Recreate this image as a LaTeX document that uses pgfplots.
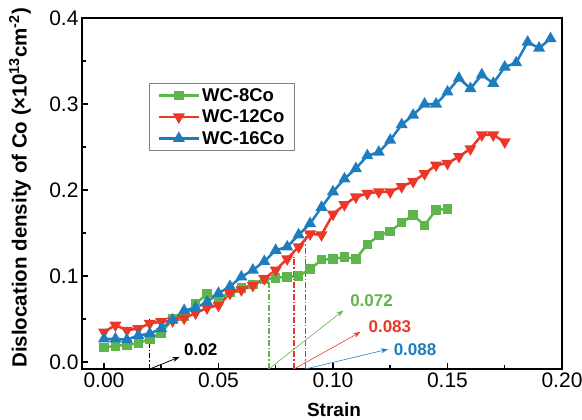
\documentclass[border=0pt]{standalone}
\usepackage{pgfplots}
\pgfplotsset{compat=1.18}
\usepackage{fontspec}
\setmainfont{Liberation Sans}
\usetikzlibrary{arrows.meta}
\definecolor{cg}{RGB}{95,180,75}
\definecolor{cr}{RGB}{235,55,40}
\definecolor{cb}{RGB}{30,125,190}

\pgfplotstableread{
x y
0.000 0.017
0.005 0.019
0.010 0.020
0.015 0.022
0.020 0.027
0.025 0.034
0.030 0.050
0.035 0.053
0.040 0.068
0.045 0.079
0.050 0.074
0.055 0.081
0.060 0.086
0.065 0.090
0.070 0.096
0.075 0.098
0.080 0.099
0.085 0.100
0.090 0.108
0.095 0.119
0.100 0.120
0.105 0.122
0.110 0.120
0.115 0.137
0.120 0.147
0.125 0.152
0.130 0.162
0.135 0.171
0.140 0.159
0.145 0.177
0.150 0.178
}\eight

\pgfplotstableread{
x y
0.000 0.035
0.005 0.043
0.010 0.037
0.015 0.039
0.020 0.045
0.025 0.047
0.030 0.048
0.035 0.051
0.040 0.057
0.045 0.063
0.050 0.066
0.055 0.080
0.060 0.084
0.065 0.089
0.070 0.097
0.075 0.107
0.080 0.120
0.085 0.134
0.090 0.149
0.095 0.148
0.100 0.172
0.105 0.183
0.110 0.192
0.115 0.196
0.120 0.198
0.125 0.198
0.130 0.204
0.135 0.210
0.140 0.219
0.145 0.229
0.150 0.231
0.155 0.239
0.160 0.248
0.165 0.264
0.170 0.264
0.175 0.256
}\twelve

\pgfplotstableread{
x y
0.000 0.027
0.005 0.027
0.010 0.026
0.015 0.031
0.020 0.033
0.025 0.039
0.030 0.049
0.035 0.060
0.040 0.063
0.045 0.070
0.050 0.080
0.055 0.088
0.060 0.099
0.065 0.107
0.070 0.117
0.075 0.130
0.080 0.134
0.085 0.148
0.090 0.161
0.095 0.180
0.100 0.198
0.105 0.213
0.110 0.225
0.115 0.240
0.120 0.244
0.125 0.258
0.130 0.276
0.135 0.287
0.140 0.300
0.145 0.300
0.150 0.314
0.155 0.330
0.160 0.318
0.165 0.334
0.170 0.324
0.175 0.343
0.180 0.348
0.185 0.372
0.190 0.365
0.195 0.376
}\sixteen

\begin{document}
\begin{tikzpicture}
\begin{axis}[
  at={(0,0)}, anchor=south west,
  scale only axis, width=480pt, height=351pt,
  xmin=-0.0096, xmax=0.2, ymin=-0.008, ymax=0.4,
  xtick={0,0.05,0.1,0.15,0.2}, ytick={0,0.1,0.2,0.3,0.4},
  minor x tick num=1, minor y tick num=1,
  tick align=inside, xtick pos=bottom, ytick pos=left,
  major tick length=6pt, minor tick length=4pt,
  every tick/.style={black, line width=1.5pt},
  axis line style={line width=2pt},
  /pgf/number format/assume math mode=true,
  tick label style={font=\fontsize{21}{24}\selectfont},
  xticklabel style={/pgf/number format/.cd, fixed, fixed zerofill, precision=2},
  yticklabel style={/pgf/number format/.cd, fixed, fixed zerofill, precision=1},
  xlabel={Strain},
  xlabel style={at={(axis description cs:0.525,-0.117)}, anchor=center, font=\bfseries\fontsize{19}{22}\selectfont},
  ylabel={Dislocation density of Co (×10\textsuperscript{13}cm\textsuperscript{-2})},
  ylabel style={at={(axis description cs:-0.129,0.516)}, anchor=center, rotate=0, font=\bfseries\fontsize{20.5}{23}\selectfont},
  legend style={at={(axis description cs:0.14,0.815)}, anchor=north west,
    draw=gray, line width=0.8pt, fill=white, font=\bfseries\fontsize{18.5}{21}\selectfont,
    row sep=3pt, inner xsep=8pt, inner ysep=3pt},
  legend cell align=left,
  legend image code/.code={\draw[mark repeat=2,mark phase=2] plot coordinates {(0pt,0pt) (20pt,0pt) (40pt,0pt)};},
]
\addplot[cg, line width=2.5pt, mark=square*, mark size=3.5pt, mark options={solid}] table[x=x,y=y] {\eight};
\addlegendentry{WC-8Co}
\addplot[cr, line width=2.5pt, mark=triangle*, mark size=4.5pt, mark options={solid, rotate=180}] table[x=x,y=y] {\twelve};
\addlegendentry{WC-12Co}
\addplot[cb, line width=2.5pt, mark=triangle*, mark size=4.5pt, mark options={solid}] table[x=x,y=y] {\sixteen};
\addlegendentry{WC-16Co}

\draw[black, line width=1.2pt, dash pattern=on 5pt off 2pt on 1.5pt off 2pt] (axis cs:0.02,-0.008) -- (axis cs:0.02,0.05);
\draw[cg, line width=1.5pt, dash pattern=on 6pt off 2pt on 1.5pt off 2pt] (axis cs:0.072,-0.008) -- (axis cs:0.072,0.097);
\draw[cr, line width=1.5pt, dash pattern=on 6pt off 2pt on 1.5pt off 2pt] (axis cs:0.083,-0.008) -- (axis cs:0.083,0.122);
\draw[cb, line width=1.5pt, dash pattern=on 6pt off 2pt on 1.5pt off 2pt] (axis cs:0.088,-0.008) -- (axis cs:0.088,0.15);

\draw[black, line width=0.8pt, -{Stealth[length=7pt,width=5pt]}] (axis cs:0.02,-0.008) -- (axis cs:0.033,0.006);
\draw[cg, line width=0.6pt, -{Stealth[length=7pt,width=5pt]}] (axis cs:0.072,-0.008) -- (axis cs:0.1045,0.06);
\draw[cr, line width=0.6pt, -{Stealth[length=7pt,width=5pt]}] (axis cs:0.083,-0.008) -- (axis cs:0.112,0.035);
\draw[cb, line width=0.6pt, -{Stealth[length=7pt,width=5pt]}] (axis cs:0.088,-0.008) -- (axis cs:0.124,0.015);

\node[black, font=\bfseries\fontsize{17}{20}\selectfont, anchor=west] at (axis cs:0.0335,0.014) {0.02};
\node[cg, font=\bfseries\fontsize{17}{20}\selectfont, anchor=west] at (axis cs:0.106,0.072) {0.072};
\node[cr, font=\bfseries\fontsize{17}{20}\selectfont, anchor=west] at (axis cs:0.114,0.041) {0.083};
\node[cb, font=\bfseries\fontsize{17}{20}\selectfont, anchor=west] at (axis cs:0.125,0.015) {0.088};
\end{axis}
\pgfresetboundingbox
\useasboundingbox (-82pt,-51pt) rectangle (500pt,369pt);
\end{tikzpicture}
\end{document}
